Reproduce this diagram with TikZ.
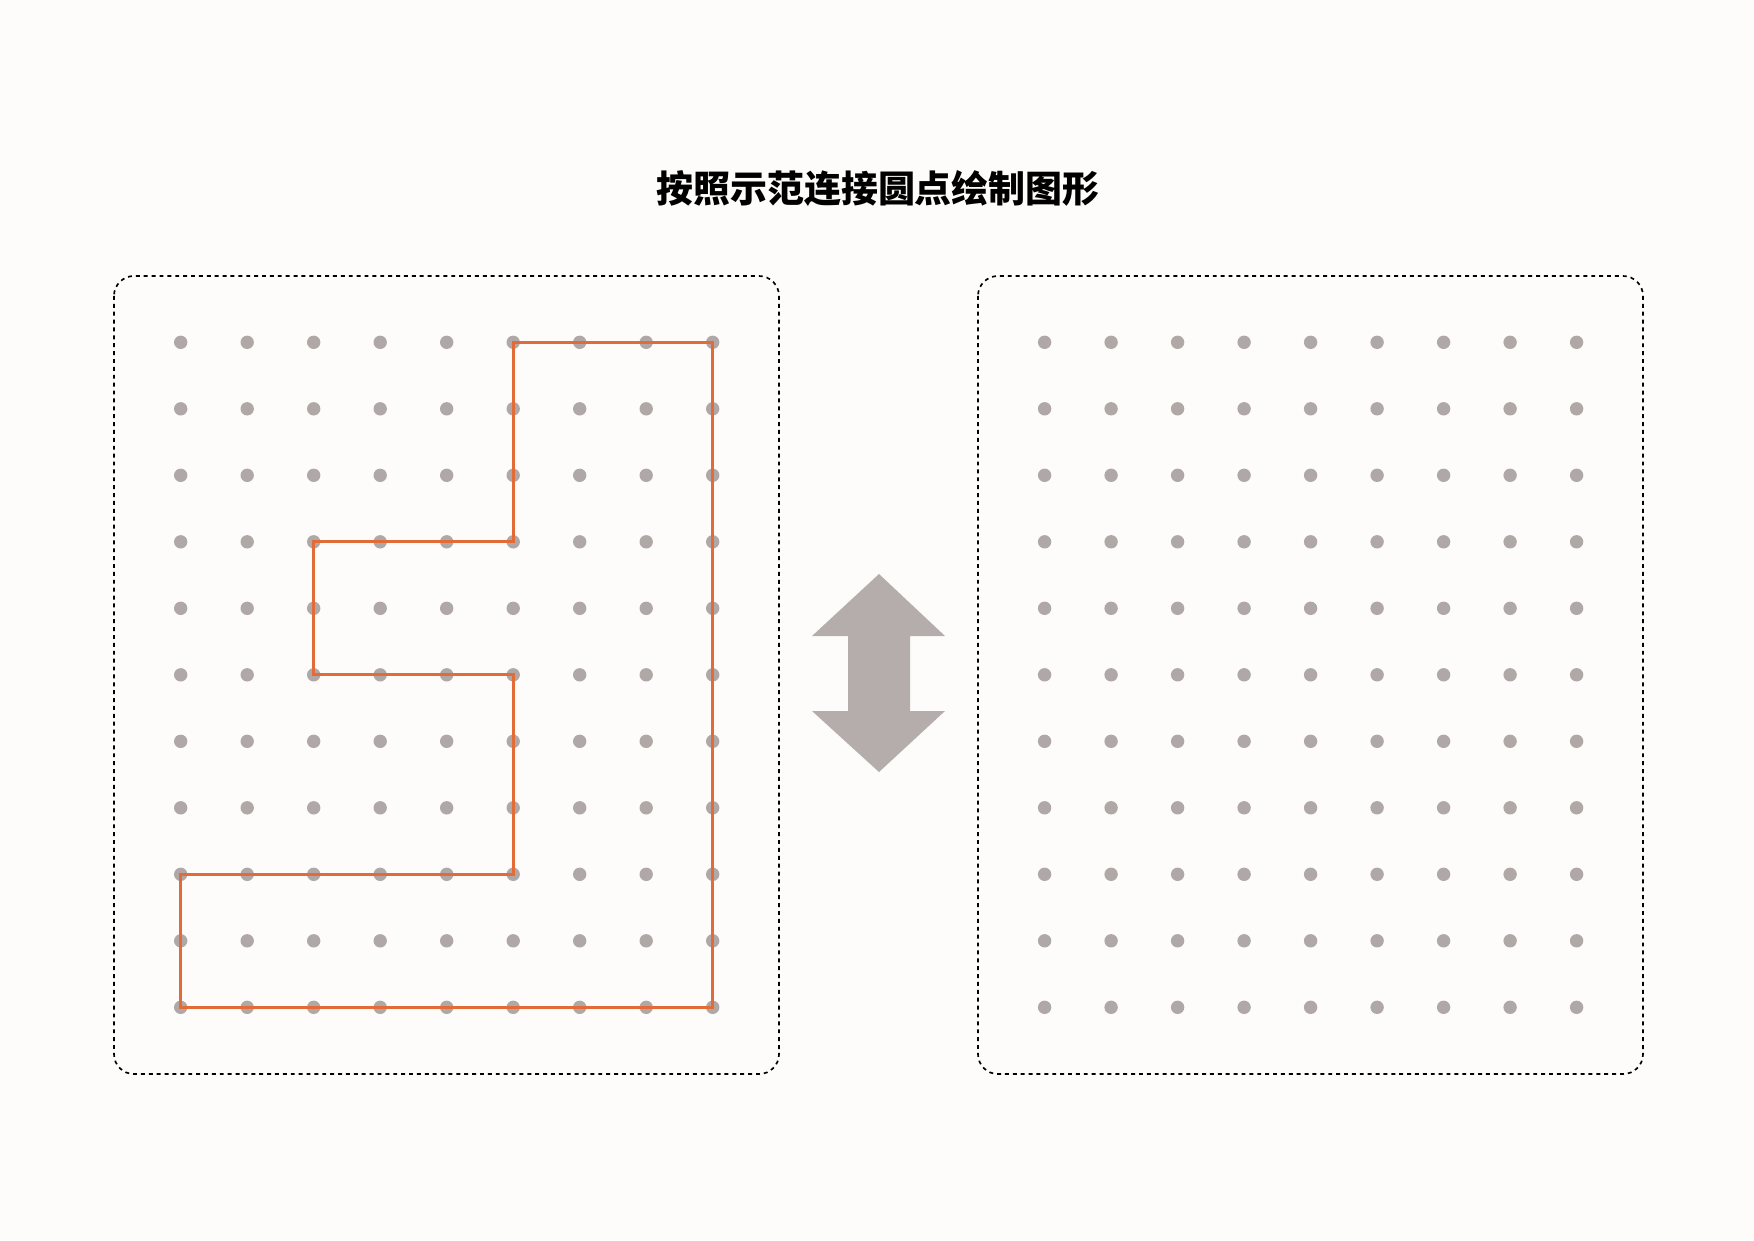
\documentclass[tikz,border=0pt]{standalone}
\usepackage{fontspec}
\newfontfamily\cjk{Noto Sans CJK SC}
\definecolor{paper}{RGB}{253,252,250}
\definecolor{dotgray}{RGB}{176,168,167}
\definecolor{arrowgray}{RGB}{180,173,171}
\definecolor{pathorange}{RGB}{226,108,56}
\tikzset{
  frame/.style={black, line width=0.8pt, dash pattern=on 1.9pt off 1.9pt, rounded corners=9.6pt},
  gridpt/.style={fill=dotgray},
  shapeline/.style={pathorange, line width=1.5pt, line join=miter},
}
\begin{document}
\begin{tikzpicture}[x=0.016933cm,y=-0.016933cm]
  \fill[paper] (0,0) rectangle (1754,1240);
  \useasboundingbox (0,0) rectangle (1754,1240);
  \node[font=\cjk\bfseries\fontsize{17.8}{20}\selectfont] (title) at (878,188) {按照示范连接圆点绘制图形};
  % frames
  \draw[frame] (114,276) rectangle (779,1074);
  \draw[frame] (978,276) rectangle (1643,1074);
  % dots
  \foreach \i in {0,...,8}
    \foreach \j in {0,...,10} {
      \coordinate (a-\i-\j) at (180.7+66.5*\i,342.3+66.5*\j);
      \coordinate (b-\i-\j) at (1044.6+66.5*\i,342.3+66.5*\j);
      \fill[gridpt] (a-\i-\j) circle (6.7);
      \fill[gridpt] (b-\i-\j) circle (6.7);
    }
  % example shape
  \draw[shapeline] (a-5-0) -- (a-8-0) -- (a-8-10) -- (a-0-10) -- (a-0-8) -- (a-5-8)
    -- (a-5-5) -- (a-2-5) -- (a-2-3) -- (a-5-3) -- cycle;
  % double arrow
  \fill[arrowgray] (879,574) -- (945,636) -- (910,636) -- (910,711) -- (945,711)
    -- (879,772) -- (812,711) -- (848,711) -- (848,636) -- (812,636) -- cycle;
\end{tikzpicture}
\end{document}
